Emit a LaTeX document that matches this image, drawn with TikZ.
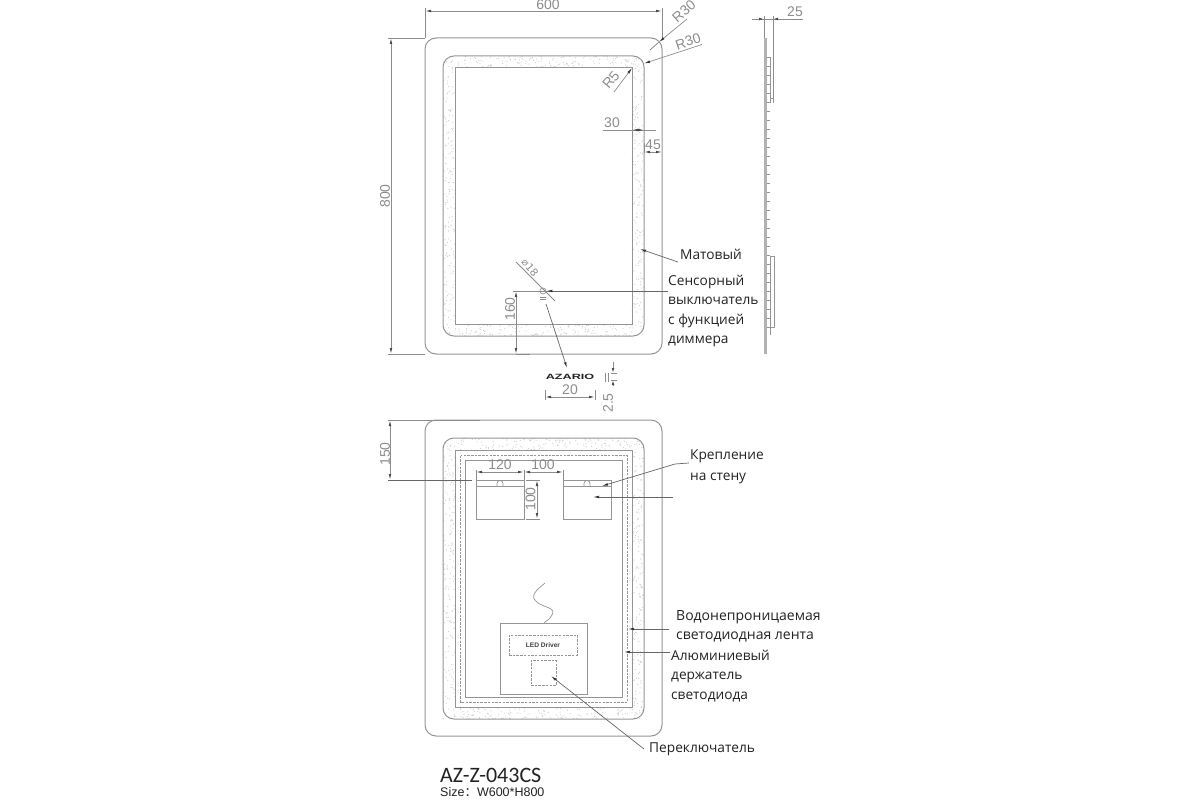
\documentclass[tikz,border=0pt]{standalone}
\usepackage{fontspec}
\setmainfont{Open Sans}
\newfontfamily\cadfont{Liberation Sans}
\newfontfamily\titlefont{Carlito}
\newfontfamily\symbolfont{DejaVu Sans}
\newfontfamily\cjkfont{Noto Sans CJK SC}
\usetikzlibrary{arrows.meta}

\definecolor{cadline}{HTML}{959595}
\definecolor{dimgray}{HTML}{8C8C8C}
\definecolor{labelink}{HTML}{222222}

\newcommand{\speckle}[5]{%
  \foreach \i in {1,...,#5} {
    \pgfmathsetmacro{\px}{#1+rnd*#3}
    \pgfmathsetmacro{\py}{#2+rnd*#4}
    \fill [speck] (\px,\py) circle (0.6);
  }}

\begin{document}
\begin{tikzpicture}[x=1pt, y=-1pt,
    outline/.style={draw=cadline, line width=1pt},
    thinline/.style={draw=cadline, line width=0.7pt},
    dashline/.style={draw=cadline, line width=0.8pt, dash pattern=on 2.5pt off 1.2pt},
    speck/.style={fill=black!20},
    dimline/.style={draw=dimgray, line width=0.8pt, {Latex[length=6pt,width=2.6pt,black!70]}-{Latex[length=6pt,width=2.6pt,black!70]}},
    extline/.style={draw=dimgray, line width=0.8pt},
    leader/.style={draw=black!60, line width=0.7pt, -{Latex[length=6pt,width=2.6pt,black!80]}},
    dimtext/.style={font=\cadfont\fontsize{14}{14}\selectfont, text=dimgray, inner sep=0pt},
    calltext/.style={font=\fontsize{13.7}{19.4}\selectfont, text=labelink, inner sep=0pt, anchor=west, align=left}]
\useasboundingbox (0,0) rectangle (1200,800);
\pgfmathsetseed{4217}

% front view
\draw [outline, rounded corners=11pt] (425,38) rectangle (662,354);
\speckle{443}{56}{201}{12}{150}
\speckle{443}{324}{201}{12}{150}
\speckle{443}{68}{12}{256}{170}
\speckle{632}{68}{12}{256}{170}
\draw [outline, rounded corners=11pt] (443,56) rectangle (644,336);
\draw [outline] (455,68) rectangle (632,324);
\node (touch) [circle, thinline, minimum size=6pt, inner sep=0pt] at (543,291) {};

\coordinate (w left) at (425,11);
\coordinate (w right) at (662,11);
\draw [extline] (425,8) -- (425,38);
\draw [extline] (662,8) -- (662,38);
\draw [dimline] (w left) -- (w right);
\node (w600) [dimtext] at (548,5) {600};

\coordinate (h top) at (391,38);
\coordinate (h bottom) at (391,354);
\draw [extline] (388,38) -- (425,38);
\draw [extline] (388,354) -- (425,354);
\draw [dimline] (h top) -- (h bottom);
\node (h800) [dimtext, rotate=90] at (385,196) {800};

\coordinate (r outer start) at (687,19);
\coordinate (r outer tip) at (659,42);
\coordinate (r outer end) at (650,50);
\draw [leader, draw=dimgray] (r outer start) -- (r outer tip);
\draw [extline] (r outer tip) -- (r outer end);
\node (r30a) [dimtext, rotate=41] at (684,11) {R30};
\coordinate (r band start) at (702,44.5);
\coordinate (r band tip) at (644,63.5);
\draw [leader, draw=dimgray] (r band start) -- (r band tip);
\node (r30b) [dimtext, rotate=18] at (688,41.5) {R30};
\coordinate (r inner start) at (614,92);
\coordinate (r inner tip) at (632,68);
\draw [leader, draw=dimgray] (r inner start) -- (r inner tip);
\node (r5) [dimtext, rotate=50] at (611,80) {R5};

\coordinate (a30 left) at (603,130);
\coordinate (a30 right) at (656,130);
\draw [extline] (a30 left) -- (a30 right);
\draw [dimline] (632,130) -- (644,130);
\node (d30) [dimtext] at (612,123) {30};
\draw [dimline] (644,152) -- (662,152);
\draw [extline] (644,143) -- (644,153);
\node (d45) [dimtext] at (653,145) {45};

\coordinate (phi start) at (516,262);
\coordinate (phi end) at (555,301);
\draw [extline] (phi start) -- (phi end);
\node (phi18) [dimtext, rotate=-50] at (530,268) {\symbolfont\fontsize{10.5}{11}\selectfont ⌀18};
\draw [extline, line width=0.9pt] (540,297) -- (546,297);
\draw [extline] (540,299.5) -- (546,299.5);

\node (sensorlabel) [calltext, anchor=north west] at (668,275) {Сенсорный\\выключатель\\с функцией\\диммера};
\coordinate (sensor start) at (668,291);
\draw [extline] (513,291) -- (sensor start);
\draw [leader] (sensor start) -- (touch.east);
\coordinate (d160 top) at (516,291);
\coordinate (d160 bottom) at (516,354);
\draw [extline] (516,354) -- (530,354);
\draw [dimline] (d160 top) -- (d160 bottom);
\node (d160) [dimtext, rotate=90] at (510,309) {160};

\node (mattelabel) [calltext] at (680,254) {Матовый};
\coordinate (matte start) at (678,262);
\draw [leader] (matte start) -- (640,249);

\node (brand) [inner sep=0pt, font=\cadfont\bfseries\fontsize{7.6}{8}\selectfont, text=labelink, xscale=1.66] at (570,376.5) {AZARIO};
\coordinate (brand start) at (546,304);
\coordinate (brand tip) at (567,368);
\draw [leader] (brand start) -- (brand tip);
\draw [dimline] (545,397) -- (595,397);
\draw [extline] (545,390) -- (545,400);
\draw [extline] (595,390) -- (595,400);
\node (d20) [dimtext] at (570,390) {20};
\draw [extline] (605,373) -- (605,382);
\draw [extline] (608.5,373) -- (608.5,382);
\draw [extline] (611,373) -- (617,373);
\draw [extline] (611,380) -- (617,380);
\draw [extline, -{Latex[length=5pt,width=2.6pt,black!70]}] (613,362) -- (613,373);
\draw [extline, -{Latex[length=5pt,width=2.6pt,black!70]}] (613,386) -- (613,380);
\node (d25) [dimtext, rotate=90] at (608,403) {2.5};

% side view
\node (glass) [fill=black!30, inner sep=0pt, minimum width=3pt, minimum height=315pt] at (765,196) {};
\foreach \y in {57,66,...,335}
  \draw [thinline, line width=0.8pt] (766.5,\y) -- (770,\y);
\draw [thinline] (770,57) -- (770,103);
\draw [thinline] (770,256) -- (774,256) -- (774,327) -- (770,327);
\draw [thinline] (770,256) -- (770,335);
\draw [thinline, line width=0.9pt] (770,98) -- (773.5,98) -- (773.5,103);
\coordinate (depth left) at (764,19);
\coordinate (depth right) at (773,19);
\draw [extline] (764,16) -- (764,38);
\draw [extline] (773,16) -- (773,98);
\draw [extline] (752,19) -- (803,19);
\draw [extline, -{Latex[length=5pt,width=2.6pt,black!70]}] (755,19) -- (depth left);
\draw [extline, -{Latex[length=5pt,width=2.6pt,black!70]}] (782,19) -- (depth right);
\node (d25side) [dimtext] at (795,12) {25};

% back view
\draw [outline, rounded corners=11pt] (425,420) rectangle (662,736);
\speckle{443}{438}{201}{12}{150}
\speckle{443}{707}{201}{12}{150}
\speckle{443}{450}{12}{257}{170}
\speckle{632}{450}{12}{257}{170}
\draw [outline, rounded corners=11pt] (443,438) rectangle (644,719);
\draw [outline] (455,450) rectangle (632,707);
\draw [dashline] (460.5,455.5) rectangle (627.5,702);
\draw [outline] (465,460) rectangle (622,697);

\node (mount left) [thinline, minimum width=48pt, minimum height=39pt, inner sep=0pt] at (500,499.5) {};
\node (mount right) [thinline, minimum width=48pt, minimum height=39pt, inner sep=0pt] at (587,499.5) {};
\draw [thinline] (476,486.5) -- (524,486.5);
\draw [thinline] (563,486.5) -- (611,486.5);
\foreach \x in {500,587}
  \draw [thinline] (\x-3,486.5) -- (\x-3,483.5) arc[start angle=180, end angle=360, radius=3] -- (\x+3,486.5);

\draw [dimline] (476,472) -- (524,472);
\draw [dimline] (524,472) -- (563,472);
\draw [extline] (476,470) -- (476,480);
\draw [extline] (524,470) -- (524,480);
\draw [extline] (563,470) -- (563,480);
\node (d120) [dimtext] at (500,465) {120};
\node (d100a) [dimtext] at (543,465) {100};
\draw [dimline] (537,480) -- (537,519);
\draw [extline] (526,480) -- (540,480);
\draw [extline] (526,519) -- (540,519);
\node (d100b) [dimtext, rotate=90] at (530.5,499) {100};
\draw [dimline] (390,420) -- (390,480);
\draw [extline] (388,420) -- (480,420);
\draw [extline, draw=black!60] (388,480) -- (472,480);
\node (d150) [dimtext, rotate=90] at (385,454) {150};

\node (mountlabel) [calltext, anchor=north west, font=\fontsize{13.7}{20.5}\selectfont] at (690,450) {Крепление\\на стену};
\coordinate (mount start) at (689,463);
\coordinate (mount bend) at (675,464);
\coordinate (mount tip) at (602,486);
\coordinate (plate start) at (673,497);
\coordinate (plate tip) at (593,497);
\draw [leader] (mount start) -- (mount bend) -- (mount tip);
\draw [leader] (plate start) -- (plate tip);

\node (driver box) [thinline, minimum width=87pt, minimum height=71pt, inner sep=0pt] at (543.5,658.5) {};
\node (led driver) [dashline, minimum width=68pt, minimum height=20pt, inner sep=0pt, font=\cadfont\bfseries\fontsize{6.6}{7}\selectfont, text=black!75] at (543,645) {LED Driver};
\node (switch box) [dashline, minimum width=25pt, minimum height=25pt, inner sep=0pt] at (543.5,673) {};
\coordinate (wire end) at (545,583);
\draw [thinline] (wire end) .. controls (537,590) and (528,596) .. (538,603)
  .. controls (546,608) and (556,608) .. (552,615) .. controls (550,619) and (546,621) .. (544,623);

\node (striplabel) [calltext, anchor=north west, font=\fontsize{14}{19.4}\selectfont] at (676,610) {Водонепроницаемая\\светодиодная лента};
\coordinate (strip start) at (669,629);
\coordinate (strip tip) at (628,629);
\draw [leader] (strip start) -- (strip tip);
\node (holderlabel) [calltext, anchor=north west] at (671,650) {Алюминиевый\\держатель\\светодиода};
\coordinate (holder start) at (670,652);
\coordinate (holder tip) at (624,652);
\draw [leader] (holder start) -- (holder tip);
\node (switchlabel) [calltext] at (649,749) {Переключатель};
\coordinate (switch start) at (644,749);
\coordinate (switch tip) at (551,676);
\draw [leader] (switch start) -- (switch tip);

\node (model) [inner sep=0pt, anchor=west, font=\titlefont\fontsize{22}{22}\selectfont, text=labelink] at (440,775) {AZ-Z-043CS};
\node (sizeline) [inner sep=0pt, anchor=west, font=\cadfont\fontsize{12.5}{12}\selectfont, text=labelink] at (440,792) {Size{\cjkfont：}W600*H800};
\end{tikzpicture}
\end{document}
